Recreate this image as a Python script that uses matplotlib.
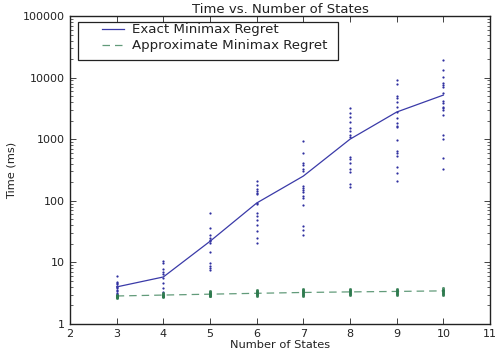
import matplotlib
matplotlib.use("Agg")
import numpy as np
import matplotlib.pyplot as plt
from matplotlib.ticker import LogLocator, FixedLocator, NullFormatter
from matplotlib.legend_handler import HandlerLine2D
from matplotlib.lines import Line2D
from matplotlib.patches import Rectangle

states = [3, 4, 5, 6, 7, 8, 9, 10]

exact_mean = [4.0, 5.8, 22, 92, 252, 1000, 2760, 5200]
approx_mean = [2.85, 2.95, 3.05, 3.15, 3.25, 3.32, 3.38, 3.45]

exact_samples = {
    3: [6.1, 4.8, 4.6, 4.4, 4.2, 4.0, 3.8, 3.6, 3.4, 3.2, 3.1, 3.0, 2.9],
    4: [10.5, 9.7, 7.7, 7.0, 6.4, 5.6, 4.6, 3.9, 3.3, 2.9],
    5: [62.7, 36.6, 27.5, 24.6, 23.1, 22.2, 20.9, 14.9, 9.7, 8.9, 8.2, 7.5],
    6: [212, 181, 154, 145, 135, 127, 91, 88, 63, 57, 49, 40, 32, 25, 21],
    7: [946, 590, 406, 381, 324, 303, 176, 163, 150, 141, 120, 112, 86, 39, 34, 28],
    8: [3200, 2640, 2320, 1910, 1500, 1350, 1170, 1070, 520, 470, 406, 324, 290, 185, 170],
    9: [9130, 7870, 5010, 4680, 4040, 3310, 2750, 2180, 1860, 1630, 1560, 970, 640, 590, 530, 357, 287, 210],
    10: [19300, 13200, 10300, 8100, 7600, 6910, 5560, 4220, 3900, 3390, 3190, 2960, 2450, 1170, 1000, 490, 324],
}

approx_samples = {
    3: [2.65, 2.7, 2.75, 2.8, 2.85, 2.9, 3.0],
    4: [2.7, 2.8, 2.85, 2.9, 3.0, 3.1, 3.2],
    5: [2.8, 2.9, 3.0, 3.05, 3.1, 3.2, 3.3, 3.4],
    6: [2.9, 3.0, 3.1, 3.15, 3.2, 3.3, 3.4, 3.6],
    7: [2.9, 3.0, 3.1, 3.2, 3.3, 3.4, 3.5, 3.7],
    8: [3.0, 3.1, 3.2, 3.3, 3.4, 3.5, 3.7],
    9: [3.0, 3.1, 3.2, 3.3, 3.4, 3.5, 3.7],
    10: [3.0, 3.1, 3.2, 3.3, 3.4, 3.5, 3.6, 3.8],
}

title = "Time vs. Number of States"
xlabel = "Number of States"
ylabel = "Time (ms)"
legend_labels = ["Exact Minimax Regret", "Approximate Minimax Regret"]

blue = "#2f2fa0"
green = "#2e7a4e"
ink = "#222222"


class RightHandle(HandlerLine2D):
    """Draw the legend line only in the right half of the handle box."""
    def create_artists(self, legend, orig_handle, xdescent, ydescent,
                       width, height, fontsize, trans):
        arts = super().create_artists(legend, orig_handle, xdescent, ydescent,
                                      width, height, fontsize, trans)
        for a in arts:
            if isinstance(a, Line2D):
                xd = np.asarray(a.get_xdata(), dtype=float)
                if len(xd) >= 2:
                    a.set_xdata(np.linspace(0.48 * width - xdescent,
                                            width - xdescent, len(xd)))
        return arts


fig = plt.figure(figsize=(4.97, 3.60), dpi=100)
ax = fig.add_axes([70/497, 1-324/360, 420/497, 308/360])

for x in states:
    ys = exact_samples[x]
    ax.plot([x]*len(ys), ys, linestyle="none", marker="o", markersize=1.6,
            color=blue, markeredgewidth=0)
for x in states:
    ys = approx_samples[x]
    ax.plot([x]*len(ys), ys, linestyle="none", marker="o", markersize=2.2,
            color=green, markeredgewidth=0, alpha=0.8)

l1, = ax.plot(states, exact_mean, color="#3a3aa8", linewidth=0.9, label=legend_labels[0])
l2, = ax.plot(states, approx_mean, color=green, linewidth=0.9, alpha=0.75,
              dashes=(6, 4), label=legend_labels[1])

ax.set_yscale("log")
ax.set_xlim(2, 11)
ax.set_ylim(1, 100000)
ax.xaxis.set_major_locator(FixedLocator(list(range(2, 12))))
ax.set_yticks([1, 10, 100, 1000, 10000, 100000])
ax.set_yticklabels(["1", "10", "100", "1000", "10000", "100000"])
ax.yaxis.set_minor_locator(LogLocator(base=10, subs=range(2, 10), numticks=20))
ax.yaxis.set_minor_formatter(NullFormatter())

ax.tick_params(which="both", direction="in", top=True, right=True, labelsize=8,
               colors=ink)
ax.tick_params(which="major", length=4, width=0.6)
ax.tick_params(which="minor", length=2, width=0.5)
for s in ax.spines.values():
    s.set_linewidth(1.0)
    s.set_color(ink)

ax.set_title(title, fontsize=9.5, pad=2.5, color=ink)
ax.set_xlabel(xlabel, fontsize=8.2, labelpad=1, color=ink)
ax.set_ylabel(ylabel, fontsize=8.2, labelpad=5, color=ink)

# legend frame box
frame = Rectangle((78/497, 1-60/360), 260/497, 38/360, transform=fig.transFigure,
                  facecolor="white", edgecolor=ink, linewidth=0.9, zorder=4,
                  clip_on=False)
ax.add_patch(frame)

leg = ax.legend(handles=[l1, l2], labels=legend_labels,
                loc="upper left", bbox_to_anchor=(82/497, 1-23.5/360),
                bbox_transform=fig.transFigure,
                fontsize=9.6, frameon=False, borderpad=0, borderaxespad=0,
                handlelength=3.15, handletextpad=0.6, labelspacing=0.2,
                handler_map={Line2D: RightHandle()})
leg.set_zorder(5)
for t in leg.get_texts():
    t.set_color(ink)

fig.savefig("out.png", dpi=100)
